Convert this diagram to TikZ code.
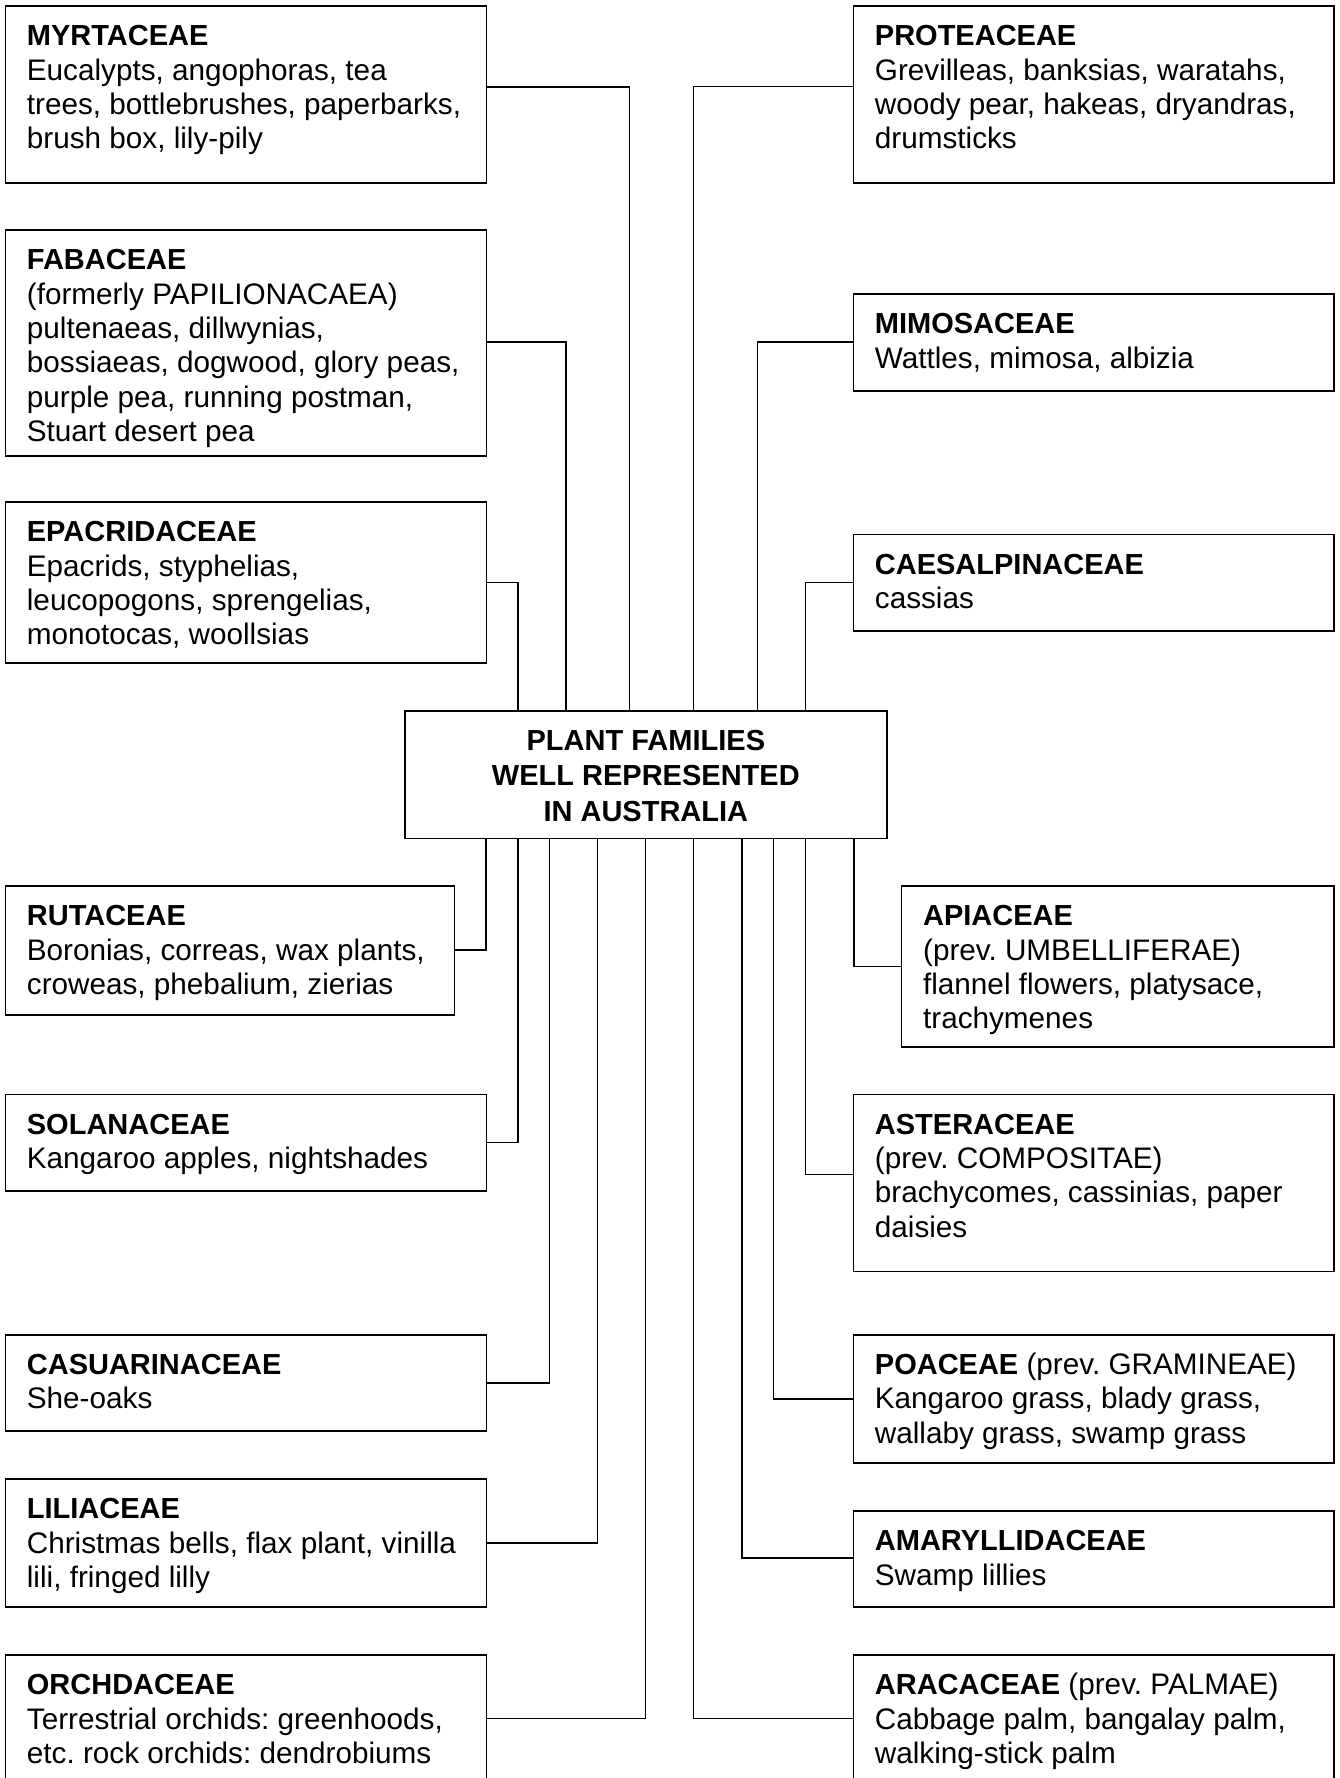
\documentclass[tikz,border=0pt]{standalone}
\usepackage{fontspec}
\setmainfont{Liberation Sans}
\frenchspacing
\newcommand\ttl[1]{{\bfseries\fontsize{29}{34.3}\selectfont #1}}
\newcommand\famtxt[3]{\parbox[t][#2pt][t]{#1pt}{\hspace*{21.5pt}\rule{0pt}{39.8pt}\begin{tabular}[t]{@{}l@{}}#3\end{tabular}}}
\newcommand\centxt[3]{\parbox[t][#2pt][t]{#1pt}{\centering\rule{0pt}{39.3pt}\begin{tabular}[t]{@{}c@{}}#3\end{tabular}}}
\begin{document}
\begin{tikzpicture}[x=1pt,y=-1pt,
  fam/.style={draw,line width=1.6pt,inner sep=0pt,outer sep=0pt,anchor=north west,font=\fontsize{29.7}{34.3}\selectfont\frenchspacing},
  cenbox/.style={fam,font=\bfseries\fontsize{29}{35.8}\selectfont},
  conn/.style={line width=1.6pt}]
\useasboundingbox (0,0) rectangle (1340,1778);
\fill[white] (0,0) rectangle (1340,1778);
\clip (0,0) rectangle (1340,1778);
% left column
\node[fam] (myr) at (5.4,6) {\famtxt{481.2}{176.7}{\ttl{MYRTACEAE}\\Eucalypts, angophoras, tea\\trees, bottlebrushes, paperbarks,\\brush box, lily-pily}};
\node[fam] (fab) at (5.4,230) {\famtxt{481.2}{226}{\ttl{FABACEAE}\\(formerly PAPILIONACAEA)\\pultenaeas, dillwynias,\\bossiaeas, dogwood, glory peas,\\purple pea, running postman,\\Stuart desert pea}};
\node[fam] (epa) at (5.4,502) {\famtxt{481.2}{161}{\ttl{EPACRIDACEAE}\\Epacrids, styphelias,\\leucopogons, sprengelias,\\monotocas, woollsias}};
\node[fam] (rut) at (5.4,886) {\famtxt{449.1}{129}{\ttl{RUTACEAE}\\Boronias, correas, wax plants,\\croweas, phebalium, zierias}};
\node[fam] (sol) at (5.4,1094.3) {\famtxt{481.2}{96.7}{\ttl{SOLANACEAE}\\Kangaroo apples, nightshades}};
\node[fam] (cas) at (5.4,1334.7) {\famtxt{481.2}{96.2}{\ttl{CASUARINACEAE}\\She-oaks}};
\node[fam] (lil) at (5.4,1479) {\famtxt{481.2}{128}{\ttl{LILIACEAE}\\Christmas bells, flax plant, vinilla\\lili, fringed lilly}};
\node[fam] (orc) at (5.4,1655) {\famtxt{481.2}{135}{\ttl{ORCHDACEAE}\\Terrestrial orchids: greenhoods,\\etc. rock orchids: dendrobiums}};
% right column
\node[fam] (pro) at (853.4,6) {\famtxt{480.6}{176.7}{\ttl{PROTEACEAE}\\Grevilleas, banksias, waratahs,\\woody pear, hakeas, dryandras,\\drumsticks}};
\node[fam] (mim) at (853.4,294) {\famtxt{480.6}{96.7}{\ttl{MIMOSACEAE}\\Wattles, mimosa, albizia}};
\node[fam] (cae) at (853.4,534.6) {\famtxt{480.6}{96.4}{\ttl{CAESALPINACEAE}\\cassias}};
\node[fam] (api) at (901.6,886) {\famtxt{432.4}{160.7}{\ttl{APIACEAE}\\(prev. UMBELLIFERAE)\\flannel flowers, platysace,\\trachymenes}};
\node[fam] (ast) at (853.4,1094.3) {\famtxt{480.6}{177.2}{\ttl{ASTERACEAE}\\(prev. COMPOSITAE)\\brachycomes, cassinias, paper\\daisies}};
\node[fam] (poa) at (853.4,1334.7) {\famtxt{480.6}{128.3}{\ttl{POACEAE} (prev. GRAMINEAE)\\Kangaroo grass, blady grass,\\wallaby grass, swamp grass}};
\node[fam] (ama) at (853.4,1511) {\famtxt{480.6}{96}{\ttl{AMARYLLIDACEAE}\\Swamp lillies}};
\node[fam] (ara) at (853.4,1655) {\famtxt{480.6}{135}{\ttl{ARACACEAE} (prev. PALMAE)\\Cabbage palm, bangalay palm,\\walking-stick palm}};
% centre
\node[cenbox] (cen) at (405,710.7) {\centxt{481.7}{127.6}{PLANT FAMILIES\\WELL REPRESENTED\\IN AUSTRALIA}};
% connectors
\draw[conn] (myr.east |- 0,86.7) -| (cen.north -| 629.5,0);
\draw[conn] (fab.east |- 0,342) -| (cen.north -| 566,0);
\draw[conn] (epa.east |- 0,582.5) -| (cen.north -| 518,0);
\draw[conn] (rut.east |- 0,950) -| (cen.south -| 486,0);
\draw[conn] (sol.east |- 0,1142.5) -| (cen.south -| 518,0);
\draw[conn] (cas.east |- 0,1383) -| (cen.south -| 549.5,0);
\draw[conn] (lil.east |- 0,1543) -| (cen.south -| 597.5,0);
\draw[conn] (orc.east |- 0,1718.5) -| (cen.south -| 645.6,0);
\draw[conn] (pro.west |- 0,86.5) -| (cen.north -| 693.5,0);
\draw[conn] (mim.west |- 0,342) -| (cen.north -| 757.5,0);
\draw[conn] (cae.west |- 0,582.5) -| (cen.north -| 805.6,0);
\draw[conn] (api.west |- 0,966.3) -| (cen.south -| 854,0);
\draw[conn] (ast.west |- 0,1174.5) -| (cen.south -| 805.6,0);
\draw[conn] (poa.west |- 0,1399) -| (cen.south -| 773.5,0);
\draw[conn] (ama.west |- 0,1558) -| (cen.south -| 741.7,0);
\draw[conn] (ara.west |- 0,1718.5) -| (cen.south -| 693.5,0);
\end{tikzpicture}
\end{document}
